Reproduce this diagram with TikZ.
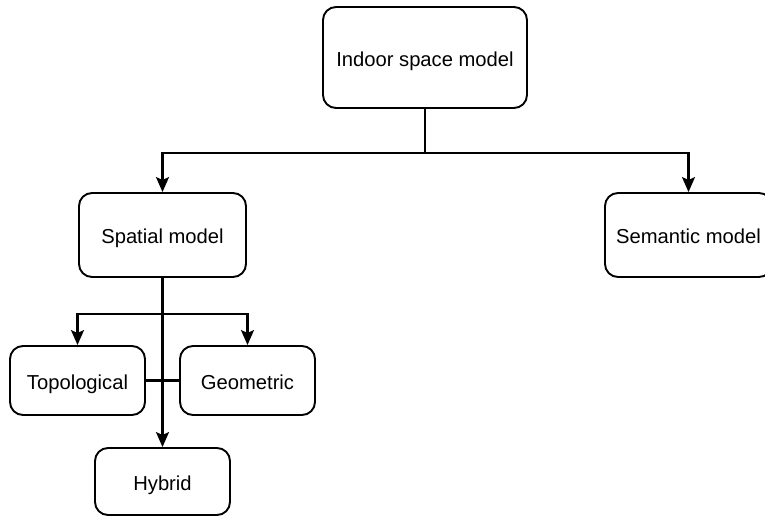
\documentclass[tikz,border=0pt]{standalone}
\usepackage{fontspec}
\setmainfont{Liberation Sans}
\usetikzlibrary{arrows.meta}
\begin{document}
\begin{tikzpicture}[x=1pt,y=-1pt,
  box/.style={draw,line width=1.9pt,rounded corners=13pt,align=center,
    inner sep=0pt,text height=17.5pt,text depth=0pt,font=\fontsize{20.2}{24}\selectfont},
  link/.style={line width=2.2pt,-{Stealth[length=15pt,width=13pt,inset=3pt]}}]
\useasboundingbox[clip] (0,0) rectangle (765,517);

% boxes
\node[box,minimum width=204pt,minimum height=101pt] (indoor) at (425,57.5) {Indoor space model};
\node[box,minimum width=167pt,minimum height=84pt] (spatial) at (162.5,235) {Spatial model};
\node[box,minimum width=167pt,minimum height=84pt] (semantic) at (688.5,235) {Semantic model};
\node[box,minimum width=135pt,minimum height=69pt] (topo) at (77.5,380.5) {Topological};
\node[box,minimum width=135pt,minimum height=69pt] (geo) at (247.5,380.5) {Geometric};
\node[box,minimum width=135pt,minimum height=67pt] (hybrid) at (162.5,481.5) {Hybrid};

% connectors
\draw[link] (indoor.south) -- ++(0,44) -| (spatial.north);
\draw[link] (indoor.south) -- ++(0,44) -| (semantic.north);
\draw[link] (spatial.south) -- ++(0,36) -| (topo.north);
\draw[link] (spatial.south) -- ++(0,36) -| (geo.north);
\draw[line width=2.2pt] (topo.east) -- (geo.west);
\draw[link] (spatial.south) -- (hybrid.north);
\end{tikzpicture}
\end{document}
